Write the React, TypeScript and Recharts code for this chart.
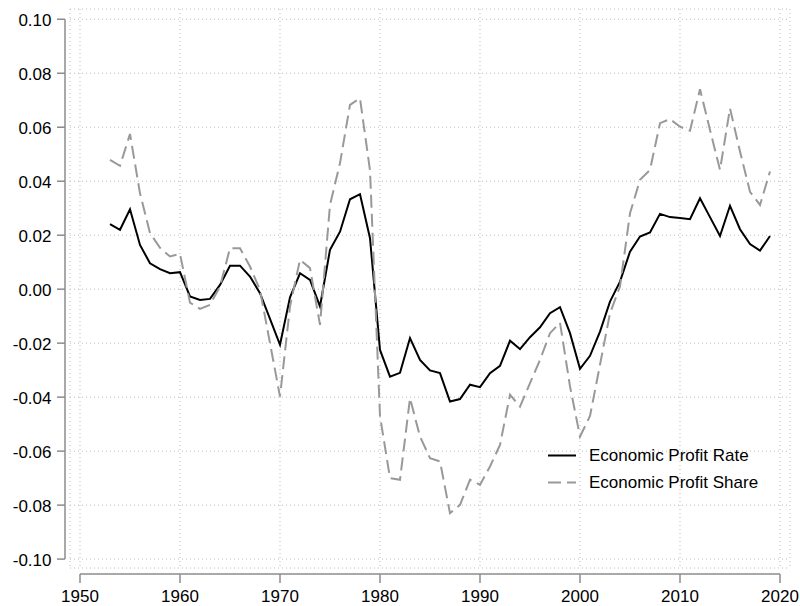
import { LineChart, Line, XAxis, YAxis, CartesianGrid, Legend, ReferenceLine } from 'recharts';

// Economic profit rate vs. share, annual, 1953-2019
const years = [
  1953, 1954, 1955, 1956, 1957, 1958, 1959, 1960, 1961, 1962, 1963, 1964, 1965, 1966, 1967, 1968,
  1969, 1970, 1971, 1972, 1973, 1974, 1975, 1976, 1977, 1978, 1979, 1980, 1981, 1982, 1983, 1984,
  1985, 1986, 1987, 1988, 1989, 1990, 1991, 1992, 1993, 1994, 1995, 1996, 1997, 1998, 1999, 2000,
  2001, 2002, 2003, 2004, 2005, 2006, 2007, 2008, 2009, 2010, 2011, 2012, 2013, 2014, 2015, 2016,
  2017, 2018, 2019,
];

const profitRate = [
  0.0241, 0.022, 0.0296, 0.0164, 0.0096, 0.0074, 0.0059, 0.0063, -0.0027, -0.004, -0.0036, 0.0016,
  0.0087, 0.0087, 0.0047, -0.0015, -0.011, -0.0206, -0.003, 0.0059, 0.0034, -0.0064, 0.0146, 0.0213,
  0.0333, 0.0352, 0.0189, -0.0225, -0.0324, -0.031, -0.0181, -0.0262, -0.0301, -0.0311, -0.0416,
  -0.0407, -0.0354, -0.0363, -0.0311, -0.0284, -0.0191, -0.0222, -0.0178, -0.0141, -0.0089, -0.0067,
  -0.0163, -0.0295, -0.0247, -0.0157, -0.0046, 0.0028, 0.0139, 0.0195, 0.021, 0.0279, 0.0267, 0.0264,
  0.0259, 0.0337, 0.0267, 0.0197, 0.0309, 0.0222, 0.0167, 0.0143, 0.0197,
];

const profitShare = [
  0.0479, 0.0457, 0.0575, 0.0355, 0.0208, 0.0153, 0.0121, 0.0131, -0.005, -0.0073, -0.0058, 0.001,
  0.0152, 0.0152, 0.0084, -0.0003, -0.02, -0.0398, -0.0064, 0.0109, 0.0078, -0.0132, 0.0312, 0.0467,
  0.0683, 0.0707, 0.044, -0.047, -0.07, -0.0706, -0.0404, -0.0546, -0.0626, -0.0638, -0.083, -0.0799,
  -0.0706, -0.0725, -0.0657, -0.0577, -0.0391, -0.0435, -0.0348, -0.0262, -0.0163, -0.0124, -0.036,
  -0.0546, -0.047, -0.028, -0.0089, 0.001, 0.0281, 0.0405, 0.0442, 0.0615, 0.063, 0.0602, 0.0587,
  0.0741, 0.059, 0.0442, 0.067, 0.051, 0.0361, 0.0312, 0.0436,
];

const xTicks = [1950, 1960, 1970, 1980, 1990, 2000, 2010, 2020];
const yTicks = [-0.1, -0.08, -0.06, -0.04, -0.02, 0, 0.02, 0.04, 0.06, 0.08, 0.1];

const data = years.map((year, i) => ({ year, rate: profitRate[i], share: profitShare[i] }));

const FONT = '"Liberation Sans", Arial, Helvetica, sans-serif';
const AXIS_GRAY = '#8c8c8c';
const SHARE_GRAY = '#999999';

function YTick({ x, y, payload }: any) {
  return (
    <g>
      <line x1={x - 13} x2={x - 5} y1={y} y2={y} stroke={AXIS_GRAY} strokeWidth={1.5} />
      <text x={x - 18.5} y={y + 6.5} textAnchor="end" fontSize={17} fontFamily={FONT} fill="#000">
        {payload.value.toFixed(2)}
      </text>
    </g>
  );
}

function XTick({ x, y, payload }: any) {
  return (
    <g>
      <line x1={x} x2={x} y1={y + 6} y2={y + 15} stroke={AXIS_GRAY} strokeWidth={1.5} />
      <text x={x} y={y + 34} textAnchor="middle" fontSize={17} fontFamily={FONT} fill="#000">
        {payload.value}
      </text>
    </g>
  );
}

function LegendBox({ payload }: any) {
  return (
    <div style={{ fontFamily: FONT, fontSize: 17, color: '#000' }}>
      {(payload || []).map((entry: any) => (
        <div key={entry.value} style={{ display: 'flex', alignItems: 'center', height: 27 }}>
          <svg width={28} height={27}>
            <line
              x1={0}
              x2={28}
              y1={13.5}
              y2={13.5}
              stroke={entry.color}
              strokeWidth={2}
              strokeDasharray={entry.payload?.strokeDasharray}
            />
          </svg>
          <span style={{ marginLeft: 13, whiteSpace: 'nowrap' }}>{entry.value}</span>
        </div>
      ))}
    </div>
  );
}

export default function App() {
  return (
    <div style={{ position: 'absolute', left: 0, top: 0, background: '#fff' }}>
      <LineChart width={800} height={606} data={data} margin={{ top: 9, right: 10, bottom: 0, left: 0 }}>
        <CartesianGrid stroke="#bdbdbd" strokeDasharray="1 3" />
        <XAxis
          dataKey="year"
          type="number"
          domain={[1949, 2021]}
          ticks={xTicks}
          height={38}
          axisLine={false}
          tickLine={false}
          tickSize={0}
          tickMargin={0}
          tick={<XTick />}
          interval={0}
        />
        <YAxis
          type="number"
          domain={[-0.1033, 0.1038]}
          ticks={yTicks}
          width={70}
          axisLine={false}
          tickLine={false}
          tickSize={0}
          tickMargin={0}
          tick={<YTick />}
          interval={0}
          allowDataOverflow
        />
        {/* Stata-style detached axis lines */}
        <ReferenceLine
          segment={[{ x: 1948.5, y: 0.1 }, { x: 1948.5, y: -0.1 }]}
          stroke={AXIS_GRAY}
          strokeWidth={1.5}
          ifOverflow="visible"
        />
        <ReferenceLine
          segment={[{ x: 1950, y: -0.1055 }, { x: 2020, y: -0.1055 }]}
          stroke={AXIS_GRAY}
          strokeWidth={1.5}
          ifOverflow="visible"
        />
        <Line
          dataKey="rate"
          name="Economic Profit Rate"
          stroke="#000"
          strokeWidth={2}
          dot={false}
          isAnimationActive={false}
        />
        <Line
          dataKey="share"
          name="Economic Profit Share"
          stroke={SHARE_GRAY}
          strokeWidth={2}
          strokeDasharray="13 6"
          dot={false}
          isAnimationActive={false}
        />
        <Legend
          layout="vertical"
          align="center"
          verticalAlign="middle"
          content={<LegendBox />}
          wrapperStyle={{ position: 'absolute', left: 548, top: 442, width: 'auto' }}
        />
      </LineChart>
    </div>
  );
}
